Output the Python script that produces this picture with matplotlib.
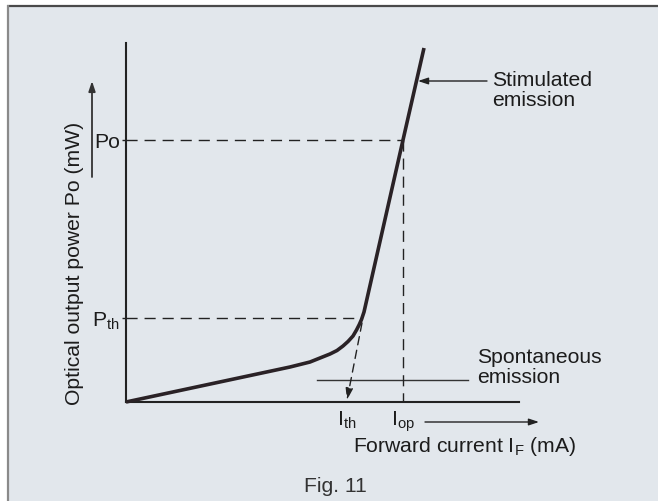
import matplotlib
matplotlib.use("Agg")
import matplotlib.pyplot as plt
from matplotlib.patches import Rectangle

plt.rcParams['font.family'] = ['Liberation Sans', 'DejaVu Sans']
plt.rcParams['mathtext.fontset'] = 'custom'
plt.rcParams['mathtext.rm'] = 'Liberation Sans'
plt.rcParams['mathtext.it'] = 'Liberation Sans'

# ---- data (arbitrary units) ----
current = [0.0, 16.4, 18.4, 20.4, 21.1, 21.7, 22.2, 22.7, 23.05, 23.33, 23.55, 23.8, 27.7, 29.8]
power   = [0.0, 3.5, 4.0, 4.8, 5.15, 5.6, 6.05, 6.6, 7.2, 7.75, 8.25, 9.0, 26.2, 35.4]
P_th = 8.4
P_o = 26.2
I_th = 22.1
I_op = 27.7
I_th_curve = 23.6
x_tick_labels = [r'I$_\mathregular{th}$', r'I$_\mathregular{op}$']
y_tick_labels = ['Po', r'P$_\mathregular{th}$']

W, H = 658, 502
fig = plt.figure(figsize=(W / 100, H / 100), dpi=100)
fig.patch.set_facecolor('white')

# background / annotation layer in pixel coordinates
bg = fig.add_axes([0, 0, 1, 1])
bg.set_xlim(0, W)
bg.set_ylim(H, 0)
bg.axis('off')
bg.set_zorder(0)
bg.add_patch(Rectangle((7, 7), W, H, facecolor='#e2e7ec', edgecolor='none'))
bg.plot([7, W], [6.5, 6.5], color='#4a4a4a', lw=1.6, solid_capstyle='butt')
bg.plot([7.5, 7.5], [6, H], color='#8a8a8a', lw=1.6, solid_capstyle='butt')

txt = '#1c1c1c'
fs = 15.2

# main axes: origin at pixel (126,403), 10 px per unit
x0, y0 = 126, 403
xlim = (0, 39.3)
ylim = (0, 35.9)
ax = fig.add_axes([x0 / W, (H - y0) / H, (xlim[1] * 10) / W, (ylim[1] * 10) / H])
ax.set_zorder(1)
ax.patch.set_alpha(0)
ax.set_xlim(*xlim)
ax.set_ylim(*ylim)
for s in ['top', 'right']:
    ax.spines[s].set_visible(False)
for s in ['left', 'bottom']:
    ax.spines[s].set_linewidth(1.5)
    ax.spines[s].set_color('#222222')

ax.set_xticks([I_th, I_op])
ax.set_xticklabels(x_tick_labels, fontsize=fs, color=txt)
ax.tick_params(axis='x', length=0, pad=5)
ax.set_yticks([P_o, P_th])
ax.set_yticklabels(y_tick_labels, fontsize=fs, color=txt)
ax.tick_params(axis='y', length=3, width=1, color='#222222', pad=1.5)

dash = (0, (8, 5))
ax.plot([0, I_op], [P_o, P_o], color='#222222', lw=1.0, ls=dash)
ax.plot([I_op, I_op], [P_o, 0], color='#222222', lw=1.0, ls=dash)
ax.plot([0, I_th_curve], [P_th, P_th], color='#222222', lw=1.0, ls=dash)
ax.annotate('', xy=(I_th, 0.2), xytext=(I_th_curve, P_th - 0.5),
            arrowprops=dict(arrowstyle='-|>,head_length=0.7,head_width=0.22',
                            color='#222222', lw=1.0, ls=(0, (6, 4)),
                            shrinkA=0, shrinkB=0))

ax.plot(current, power, color='#2a2226', lw=2.6, solid_joinstyle='round',
        solid_capstyle='butt', clip_on=False, zorder=5)

# labels and pointers (pixel layout)
bg.text(75, 263, 'Optical output power Po (mW)', rotation=90, ha='center',
        va='center', fontsize=fs, color=txt)
bg.annotate('', xy=(92, 82), xytext=(92, 178),
            arrowprops=dict(arrowstyle='-|>,head_length=0.6,head_width=0.2',
                            color='#333333', lw=1.3, shrinkA=0, shrinkB=0))
bg.text(353, 452, r'Forward current I$_\mathregular{F}$ (mA)', ha='left',
        va='baseline', fontsize=fs, color=txt)
bg.annotate('', xy=(539, 423), xytext=(425, 423),
            arrowprops=dict(arrowstyle='-|>,head_length=0.6,head_width=0.2',
                            color='#222222', lw=1.0, shrinkA=0, shrinkB=0))
bg.text(304, 492, 'Fig. 11', ha='left', va='baseline', fontsize=fs, color='#333333')
bg.text(492, 71, 'Stimulated\nemission', ha='left', va='top', fontsize=fs,
        color=txt, linespacing=1.1)
bg.annotate('', xy=(418, 82), xytext=(487, 82),
            arrowprops=dict(arrowstyle='-|>,head_length=0.6,head_width=0.2',
                            color='#222222', lw=1.0, shrinkA=0, shrinkB=0))
bg.text(477, 348, 'Spontaneous\nemission', ha='left', va='top', fontsize=fs,
        color=txt, linespacing=1.1)
bg.plot([317, 468], [381, 381], color='#333333', lw=1.0)

fig.savefig('out.png', dpi=100, facecolor=fig.get_facecolor())
